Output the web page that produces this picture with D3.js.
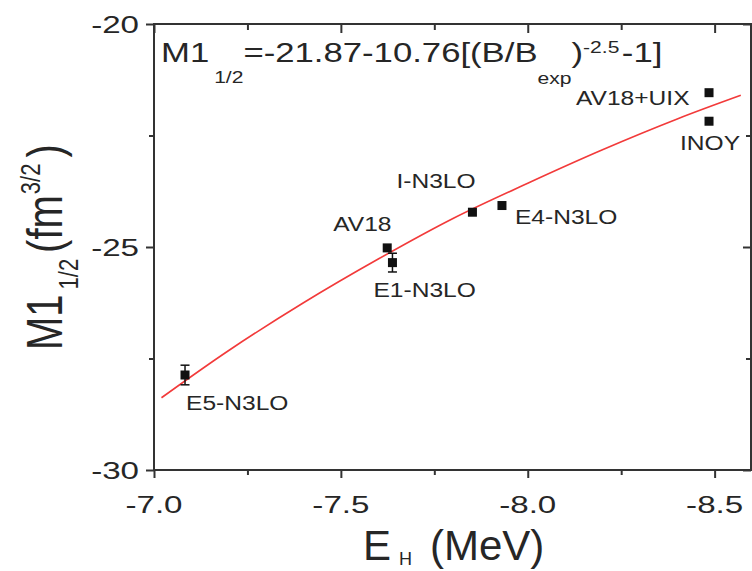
<!DOCTYPE html>
<html>
<head>
<meta charset="utf-8">
<script src="https://cdn.jsdelivr.net/npm/d3@7"></script>
<style>
  html, body { margin: 0; padding: 0; background: #fff; }
  svg { display: block; }
  text { font-family: "Liberation Sans", Arial, Helvetica, sans-serif; fill: #262626; }
</style>
</head>
<body>
<svg id="chart" width="752" height="571"></svg>
<script>
// ---- data ----
const pointNames = ["E5-N3LO", "AV18", "E1-N3LO", "I-N3LO", "E4-N3LO", "AV18+UIX", "INOY"];
const pointE     = [-7.083, -7.624, -7.638, -7.852, -7.931, -8.485, -8.485];
const pointM     = [-27.87, -25.02, -25.35, -24.22, -24.07, -21.54, -22.18];
const pointErr   = [0.22, 0, 0.21, 0, 0, 0, 0];
// label anchor offsets (pixels) relative to the marker
const labelDx    = [1, -54, -19, -76, 13, -133, -29];
const labelDy    = [35, -17, 34, -24, 18, 12, 29];

const curveE = [-7.02, -7.2, -7.4, -7.6, -7.8, -8.0, -8.2, -8.4, -8.57];
const curveM = [-28.38, -27.32, -26.25, -25.27, -24.36, -23.57, -22.82, -22.13, -21.60];

const xMajorTicks = [-7.0, -7.5, -8.0, -8.5];
const xMinorTicks = [-7.25, -7.75, -8.25];
const yMajorTicks = [-30, -25, -20];
const yMinorTicks = [-27.5, -22.5];

// ---- layout ----
const svg = d3.select("#chart");
const mL = 154, mR = 752, mT = 24, mB = 470;
const x = d3.scaleLinear().domain([-7.0, -8.6]).range([mL, mR]);
const y = d3.scaleLinear().domain([-30, -20]).range([mB, mT]);
const axisColor = "#333";

// axes via d3
svg.append("g").attr("transform", `translate(0,${mB})`)
  .call(d3.axisBottom(x).tickValues(xMajorTicks).tickSize(8).tickFormat(""));
svg.append("g").attr("transform", `translate(0,${mB})`)
  .call(d3.axisBottom(x).tickValues(xMinorTicks).tickSize(5).tickFormat(""));
svg.append("g").attr("transform", `translate(0,${mT})`)
  .call(d3.axisBottom(x).tickValues(xMajorTicks).tickSize(9).tickFormat(""));
svg.append("g").attr("transform", `translate(0,${mT})`)
  .call(d3.axisBottom(x).tickValues(xMinorTicks).tickSize(6).tickFormat(""));
svg.append("g").attr("transform", `translate(${mL},0)`)
  .call(d3.axisLeft(y).tickValues(yMajorTicks).tickSize(8).tickFormat(""));
svg.append("g").attr("transform", `translate(${mL},0)`)
  .call(d3.axisLeft(y).tickValues(yMinorTicks).tickSize(5).tickFormat(""));
svg.append("g").attr("transform", `translate(${mR - 1},0)`)
  .call(d3.axisLeft(y).tickValues(yMajorTicks).tickSize(8).tickFormat(""));
svg.append("g").attr("transform", `translate(${mR - 1},0)`)
  .call(d3.axisLeft(y).tickValues(yMinorTicks).tickSize(5).tickFormat(""));
svg.selectAll(".domain").remove();
svg.selectAll(".tick line").attr("stroke", axisColor).attr("stroke-width", 2);

// frame
svg.append("rect").attr("x", mL).attr("y", mT)
  .attr("width", mR - 1 - mL).attr("height", mB - mT)
  .attr("fill", "none").attr("stroke", axisColor).attr("stroke-width", 2);

// tick labels
xMajorTicks.forEach(v => {
  svg.append("text")
    .attr("transform", `translate(${x(v)},513) scale(1.38,1)`)
    .attr("text-anchor", "middle").attr("font-size", 24)
    .text(v.toFixed(1));
});
yMajorTicks.forEach(v => {
  svg.append("text")
    .attr("transform", `translate(139,${y(v) + 9}) scale(1.38,1)`)
    .attr("text-anchor", "end").attr("font-size", 24)
    .text(String(v));
});

// axis titles
const xt = svg.append("text").attr("x", 363).attr("y", 560).attr("font-size", 42);
xt.append("tspan").text("E");
xt.append("tspan").attr("font-size", 18).attr("dy", 5).attr("dx", 8).text("H");
xt.append("tspan").attr("dy", -5).attr("dx", 18).text("(MeV)");

const yt = svg.append("text")
  .attr("transform", "translate(62,350) scale(1.25,1) rotate(-90)")
  .attr("font-size", 40);
yt.append("tspan").text("M1");
yt.append("tspan").attr("font-size", 22).attr("dy", 13).attr("dx", 5).text("1/2");
yt.append("tspan").attr("dy", -13).attr("dx", 6).text("(fm");
yt.append("tspan").attr("font-size", 22).attr("dy", -18).attr("dx", 1).text("3/2");
yt.append("tspan").attr("dy", 18).attr("dx", 6).text(")");

// equation
const eq = svg.append("text")
  .attr("transform", "translate(161,62) scale(1.24,1)")
  .attr("font-size", 28);
eq.append("tspan").text("M1");
eq.append("tspan").attr("font-size", 17).attr("dy", 21).attr("dx", 4).text("1/2");
eq.append("tspan").attr("dy", -21).text("=-21.87-10.76[(B/B");
eq.append("tspan").attr("font-size", 17).attr("dy", 22).text("exp");
eq.append("tspan").attr("dy", -22).text(")");
eq.append("tspan").attr("font-size", 17).attr("dy", -9).text("-2.5");
eq.append("tspan").attr("dy", 9).attr("dx", 2).text("-1]");

// fit curve
const curveData = curveE.map((e, i) => ({ e, m: curveM[i] }));
svg.append("path")
  .datum(curveData)
  .attr("fill", "none").attr("stroke", "#f23a3a").attr("stroke-width", 1.6)
  .attr("d", d3.line().x(d => x(d.e)).y(d => y(d.m)).curve(d3.curveCatmullRom));

// points
const pts = pointNames.map((n, i) => ({ n, e: pointE[i], m: pointM[i], err: pointErr[i], dx: labelDx[i], dy: labelDy[i] }));
const pg = svg.append("g");
pts.filter(d => d.err > 0).forEach(d => {
  const cx = x(d.e);
  pg.append("line").attr("x1", cx).attr("x2", cx)
    .attr("y1", y(d.m - d.err)).attr("y2", y(d.m + d.err))
    .attr("stroke", "#111").attr("stroke-width", 1.5);
  [d.m - d.err, d.m + d.err].forEach(v => {
    pg.append("line").attr("x1", cx - 4.5).attr("x2", cx + 4.5)
      .attr("y1", y(v)).attr("y2", y(v))
      .attr("stroke", "#111").attr("stroke-width", 1.5);
  });
});
pg.selectAll("rect.pt").data(pts).enter().append("rect")
  .attr("class", "pt")
  .attr("x", d => x(d.e) - 4.5).attr("y", d => y(d.m) - 4.5)
  .attr("width", 9).attr("height", 9).attr("fill", "#111");

pts.forEach(d => {
  svg.append("text")
    .attr("transform", `translate(${x(d.e) + d.dx},${y(d.m) + d.dy}) scale(1.17,1)`)
    .attr("font-size", 21)
    .text(d.n);
});
</script>
</body>
</html>
